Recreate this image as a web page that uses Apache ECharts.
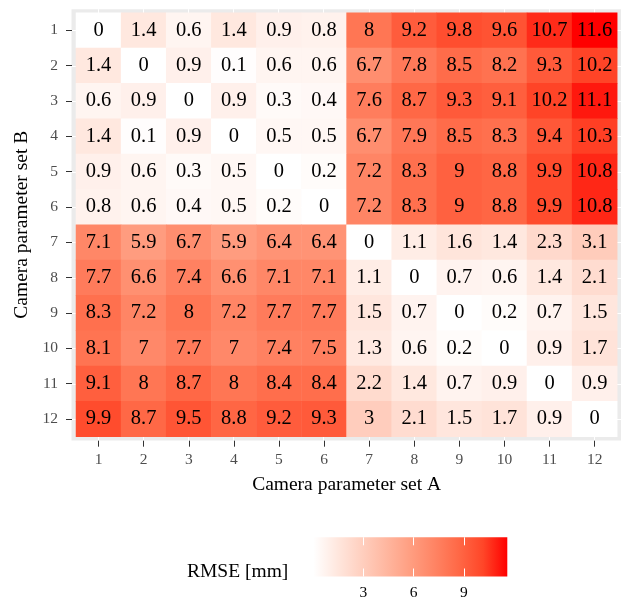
<!DOCTYPE html>
<html>
<head>
<meta charset="utf-8">
<script src="https://cdn.jsdelivr.net/npm/echarts@6/dist/echarts.min.js"></script>
<style>
html,body{margin:0;padding:0;background:#fff;}
#chart{width:621px;height:601px;}
</style>
</head>
<body>
<div id="chart"></div>
<script>
// ---- data ----
const setsA = ['1','2','3','4','5','6','7','8','9','10','11','12']; // x: Camera parameter set A
const setsB = ['1','2','3','4','5','6','7','8','9','10','11','12']; // y: Camera parameter set B
// rows = set B (1..12), columns = set A (1..12)
const rmseRow1  = [0, 1.4, 0.6, 1.4, 0.9, 0.8, 8, 9.2, 9.8, 9.6, 10.7, 11.6];
const rmseRow2  = [1.4, 0, 0.9, 0.1, 0.6, 0.6, 6.7, 7.8, 8.5, 8.2, 9.3, 10.2];
const rmseRow3  = [0.6, 0.9, 0, 0.9, 0.3, 0.4, 7.6, 8.7, 9.3, 9.1, 10.2, 11.1];
const rmseRow4  = [1.4, 0.1, 0.9, 0, 0.5, 0.5, 6.7, 7.9, 8.5, 8.3, 9.4, 10.3];
const rmseRow5  = [0.9, 0.6, 0.3, 0.5, 0, 0.2, 7.2, 8.3, 9, 8.8, 9.9, 10.8];
const rmseRow6  = [0.8, 0.6, 0.4, 0.5, 0.2, 0, 7.2, 8.3, 9, 8.8, 9.9, 10.8];
const rmseRow7  = [7.1, 5.9, 6.7, 5.9, 6.4, 6.4, 0, 1.1, 1.6, 1.4, 2.3, 3.1];
const rmseRow8  = [7.7, 6.6, 7.4, 6.6, 7.1, 7.1, 1.1, 0, 0.7, 0.6, 1.4, 2.1];
const rmseRow9  = [8.3, 7.2, 8, 7.2, 7.7, 7.7, 1.5, 0.7, 0, 0.2, 0.7, 1.5];
const rmseRow10 = [8.1, 7, 7.7, 7, 7.4, 7.5, 1.3, 0.6, 0.2, 0, 0.9, 1.7];
const rmseRow11 = [9.1, 8, 8.7, 8, 8.4, 8.4, 2.2, 1.4, 0.7, 0.9, 0, 0.9];
const rmseRow12 = [9.9, 8.7, 9.5, 8.8, 9.2, 9.3, 3, 2.1, 1.5, 1.7, 0.9, 0];
const rmseRows = [rmseRow1, rmseRow2, rmseRow3, rmseRow4, rmseRow5, rmseRow6,
                  rmseRow7, rmseRow8, rmseRow9, rmseRow10, rmseRow11, rmseRow12];
const scaleMin = 0;
const scaleMax = 11.6;
const legendTicks = [3, 6, 9];

// ---- styling (white -> red, Lab interpolated stops) ----
const rampColors = ['#FFFFFF','#FFE7DE','#FFCFBF','#FFB7A0','#FF9E81','#FF8464','#FF6846','#FF4628','#FF0000'];
const FONT = 'Liberation Serif';

const heatData = [];
rmseRows.forEach(function (row, yi) {
  row.forEach(function (v, xi) { heatData.push([xi, yi, v]); });
});

const gradient = {
  type: 'linear', x: 0, y: 0, x2: 1, y2: 0,
  colorStops: rampColors.map(function (c, i) { return { offset: i / (rampColors.length - 1), color: c }; })
};

const chart = echarts.init(document.getElementById('chart'), null, { renderer: 'canvas' });
chart.setOption({
  backgroundColor: '#ffffff',
  animation: false,
  textStyle: { fontFamily: FONT },
  grid: [
    { // panel background
      left: 71.5, top: 9.2, width: 550.3, height: 431.3,
      show: true, backgroundColor: '#EBEBEB', borderWidth: 0, containLabel: false
    },
    { // heatmap tiles
      left: 76, top: 12.7, width: 541.2, height: 424, containLabel: false
    },
    { // colour bar
      left: 313.3, top: 537.3, width: 194, height: 39.4,
      show: true, backgroundColor: gradient, borderWidth: 0, containLabel: false
    }
  ],
  xAxis: [
    {
      gridIndex: 0, type: 'value', min: 0.4, max: 12.6, splitNumber: 12,
      axisLine: { show: false }, axisTick: { show: false }, axisLabel: { show: false },
      splitLine: { show: true, showMinLine: false, showMaxLine: false, lineStyle: { color: '#FFFFFF', width: 1 } }
    },
    {
      gridIndex: 1, type: 'category', data: setsA, position: 'bottom', offset: 4,
      axisLine: { show: false },
      axisTick: { show: true, alignWithLabel: true, length: 6, lineStyle: { color: '#333333', width: 1 } },
      axisLabel: { color: '#4D4D4D', fontFamily: FONT, fontSize: 15.5, margin: 11.5 },
      splitLine: { show: false },
      name: 'Camera parameter set A', nameLocation: 'middle', nameGap: 34,
      nameTextStyle: { color: '#000000', fontFamily: FONT, fontSize: 19.5 }
    },
    {
      gridIndex: 2, type: 'value', min: scaleMin, max: scaleMax, position: 'bottom',
      axisLine: { show: false },
      axisTick: { show: true, inside: true, length: 8, customValues: legendTicks, lineStyle: { color: '#FFFFFF', width: 1 } },
      axisLabel: { show: true, customValues: legendTicks, color: '#000000', fontFamily: FONT, fontSize: 15.5, margin: 8.5 },
      splitLine: { show: false }
    },
    {
      gridIndex: 2, type: 'value', min: scaleMin, max: scaleMax, position: 'top',
      axisLine: { show: false },
      axisTick: { show: true, inside: true, length: 8, customValues: legendTicks, lineStyle: { color: '#FFFFFF', width: 1 } },
      axisLabel: { show: false },
      splitLine: { show: false }
    }
  ],
  yAxis: [
    {
      gridIndex: 0, type: 'value', min: 0.4, max: 12.6, splitNumber: 12,
      axisLine: { show: false }, axisTick: { show: false }, axisLabel: { show: false },
      splitLine: { show: true, showMinLine: false, showMaxLine: false, lineStyle: { color: '#FFFFFF', width: 1 } }
    },
    {
      gridIndex: 1, type: 'category', data: setsB, inverse: true, position: 'left', offset: 4,
      axisLine: { show: false },
      axisTick: { show: true, alignWithLabel: true, length: 6, lineStyle: { color: '#333333', width: 1 } },
      axisLabel: { color: '#4D4D4D', fontFamily: FONT, fontSize: 15.5, margin: 14 },
      splitLine: { show: false },
      name: 'Camera parameter set B', nameLocation: 'middle', nameGap: 35, nameRotate: 90,
      nameTextStyle: { color: '#000000', fontFamily: FONT, fontSize: 19.5 }
    },
    {
      gridIndex: 2, type: 'value', show: false, min: 0, max: 1
    }
  ],
  visualMap: {
    type: 'continuous', show: false, min: scaleMin, max: scaleMax,
    dimension: 2, seriesIndex: 0, inRange: { color: rampColors }
  },
  series: [
    {
      type: 'heatmap', xAxisIndex: 1, yAxisIndex: 1, data: heatData,
      label: {
        show: true, color: '#000000', fontFamily: FONT, fontSize: 20.5,
        formatter: function (p) { return String(p.value[2]); }
      },
      itemStyle: { borderWidth: 0 },
      emphasis: { disabled: true }
    }
  ],
  graphic: [
    {
      type: 'text', left: 187, top: 562,
      style: { text: 'RMSE [mm]', fill: '#000000', font: '19.5px "Liberation Serif"' }
    }
  ]
});
</script>
</body>
</html>
